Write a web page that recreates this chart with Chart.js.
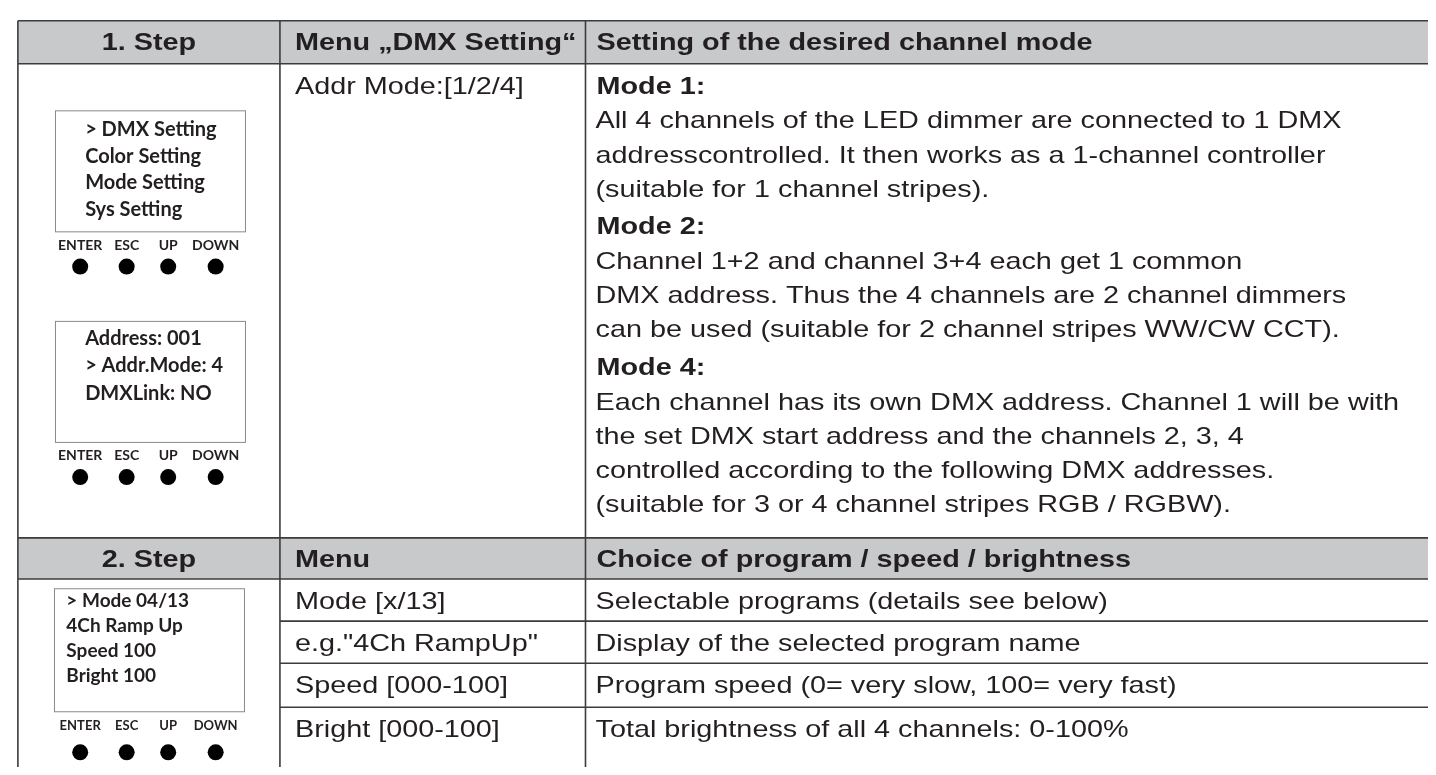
<!DOCTYPE html>
<html>
<head>
<meta charset="UTF-8">
<title>DMX Setting table</title>
<script src="https://cdn.jsdelivr.net/npm/chart.js"></script>
<style>
  body { margin: 0; background: #fff; }
  canvas { display: block; }
</style>
</head>
<body>
<canvas id="tabla" width="1436" height="775"></canvas>
<script>
// texts of the table
const header1 = ['1. Step', 'Menu \u201EDMX Setting\u201C', 'Setting of the desired channel mode'];
const header2 = ['2. Step', 'Menu', 'Choice of program / speed / brightness'];
const step1Menu = ['Addr Mode:[1/2/4]'];
const modeTitles = ['Mode 1:', 'Mode 2:', 'Mode 4:'];
const mode1Lines = [
  'All 4 channels of the LED dimmer are connected to 1 DMX',
  'addresscontrolled. It then works as a 1-channel controller',
  '(suitable for 1 channel stripes).'
];
const mode2Lines = [
  'Channel 1+2 and channel 3+4 each get 1 common',
  'DMX address. Thus the 4 channels are 2 channel dimmers',
  'can be used (suitable for 2 channel stripes WW/CW CCT).'
];
const mode4Lines = [
  'Each channel has its own DMX address. Channel 1 will be with',
  'the set DMX start address and the channels 2, 3, 4',
  'controlled according to the following DMX addresses.',
  '(suitable for 3 or 4 channel stripes RGB / RGBW).'
];
const step2Menu = ['Mode [x/13]', 'e.g."4Ch RampUp"', 'Speed [000-100]', 'Bright [000-100]'];
const step2Desc = [
  'Selectable programs (details see below)',
  'Display of the selected program name',
  'Program speed (0= very slow, 100= very fast)',
  'Total brightness of all 4 channels: 0-100%'
];
// display panels in column 1
const panel1Lines = ['> DMX Setting', 'Color Setting', 'Mode Setting', 'Sys Setting'];
const panel2Lines = ['Address: 001', '> Addr.Mode: 4', 'DMXLink: NO'];
const panel3Lines = ['> Mode 04/13', '4Ch Ramp Up', 'Speed 100', 'Bright 100'];
const buttonLabels = ['ENTER', 'ESC', 'UP', 'DOWN'];
const buttonX = [73, 120, 162, 210];
const buttonY = [264, 479, 760];

// layout
const colX = [10, 275, 584, 1436];
const rowY = [13, 57, 541, 583, 626, 669, 714, 775];
const TXT = '#231f20';
const SX = 1.2;

function texto(ctx, s, x, y, font, align, sx) {
  ctx.save();
  ctx.font = font;
  ctx.fillStyle = TXT;
  ctx.textAlign = align || 'left';
  ctx.textBaseline = 'alphabetic';
  ctx.translate(x, y);
  ctx.scale(sx || 1, 1);
  ctx.fillText(s, 0, 0);
  ctx.restore();
}

const tablaPlugin = {
  id: 'tabla',
  beforeDatasetsDraw(chart) {
    const ctx = chart.ctx;
    const X = v => chart.scales.x.getPixelForValue(v);
    const Y = v => chart.scales.y.getPixelForValue(v);
    const bold = 'bold 24px "Liberation Sans", Arial, sans-serif';
    const reg = '24px "Liberation Sans", Arial, sans-serif';

    // header fills
    ctx.fillStyle = '#c8c9cb';
    ctx.fillRect(X(colX[0]), Y(rowY[0]), X(colX[3]) - X(colX[0]), Y(rowY[1]) - Y(rowY[0]));
    ctx.fillRect(X(colX[0]), Y(rowY[2]), X(colX[3]) - X(colX[0]), Y(rowY[3]) - Y(rowY[2]));

    // grid
    ctx.strokeStyle = '#3c3c3c';
    ctx.lineWidth = 1.6;
    ctx.beginPath();
    [rowY[0], rowY[1], rowY[2], rowY[3]].forEach(y => {
      ctx.moveTo(X(colX[0]), Y(y)); ctx.lineTo(X(colX[3]), Y(y));
    });
    [rowY[4], rowY[5], rowY[6]].forEach(y => {
      ctx.moveTo(X(colX[1]), Y(y)); ctx.lineTo(X(colX[3]), Y(y));
    });
    [colX[0], colX[1], colX[2]].forEach(x => {
      ctx.moveTo(X(x), Y(rowY[0])); ctx.lineTo(X(x), Y(rowY[7]));
    });
    ctx.stroke();

    // headers
    [header1, header2].forEach((h, i) => {
      const base = Y(rowY[i === 0 ? 0 : 2]) + 29;
      texto(ctx, h[0], (X(colX[0]) + X(colX[1])) / 2, base, bold, 'center', SX);
      texto(ctx, h[1], X(colX[1]) + 15, base, bold, 'left', SX);
      texto(ctx, h[2], X(colX[2]) + 11, base, bold, 'left', SX);
    });

    // step 1
    texto(ctx, step1Menu[0], X(colX[1]) + 15, Y(88), reg, 'left', SX);
    const bloques = [mode1Lines, mode2Lines, mode4Lines];
    const inicio = [88, 231, 375];
    bloques.forEach((lines, b) => {
      texto(ctx, modeTitles[b], X(colX[2]) + 11, Y(inicio[b]), bold, 'left', SX);
      lines.forEach((l, i) => {
        texto(ctx, l, X(colX[2]) + 10, Y(inicio[b] + 35 * (i + 1)), reg, 'left', SX);
      });
    });

    // step 2 rows
    step2Menu.forEach((m, i) => {
      const base = Y(rowY[3 + i]) + 30;
      texto(ctx, m, X(colX[1]) + 15, base, reg, 'left', SX);
      texto(ctx, step2Desc[i], X(colX[2]) + 10, base, reg, 'left', SX);
    });

    // panels
    const pfont = 'bold 20px Lato, "Open Sans", sans-serif';
    ctx.strokeStyle = '#8a8a8a';
    ctx.lineWidth = 1;
    ctx.strokeRect(X(48), Y(105), 190, 121);
    ctx.strokeRect(X(48), Y(320), 190, 121);
    ctx.strokeRect(X(47), Y(593), 190, 123);
    panel1Lines.forEach((l, i) => texto(ctx, l, X(78), Y(131 + 27 * i), pfont, 'left'));
    panel2Lines.forEach((l, i) => texto(ctx, l, X(78), Y(344 + 28 * i), pfont, 'left'));
    panel3Lines.forEach((l, i) => texto(ctx, l, X(59), Y(612 + 25.5 * i), 'bold 19px Lato, "Open Sans", sans-serif', 'left'));
    [247, 462, 737].forEach((by, p) => {
      const lf = p < 2 ? 'bold 14px Lato, "Open Sans", sans-serif' : 'bold 13px Lato, "Open Sans", sans-serif';
      buttonLabels.forEach((b, i) => texto(ctx, b, X(buttonX[i]), Y(by), lf, 'center'));
    });
  }
};

const puntos = [];
buttonY.forEach(y => buttonX.forEach(x => puntos.push({ x: x, y: y })));

new Chart(document.getElementById('tabla'), {
  type: 'scatter',
  data: {
    datasets: [{
      data: puntos,
      pointRadius: 8,
      pointBackgroundColor: '#000',
      pointBorderWidth: 0
    }]
  },
  options: {
    responsive: false,
    animation: false,
    layout: { padding: 0 },
    plugins: { legend: { display: false }, tooltip: { enabled: false } },
    scales: {
      x: { type: 'linear', min: 0, max: 1436, display: false },
      y: { type: 'linear', min: 0, max: 775, reverse: true, display: false }
    }
  },
  plugins: [tablaPlugin]
});
</script>
</body>
</html>
